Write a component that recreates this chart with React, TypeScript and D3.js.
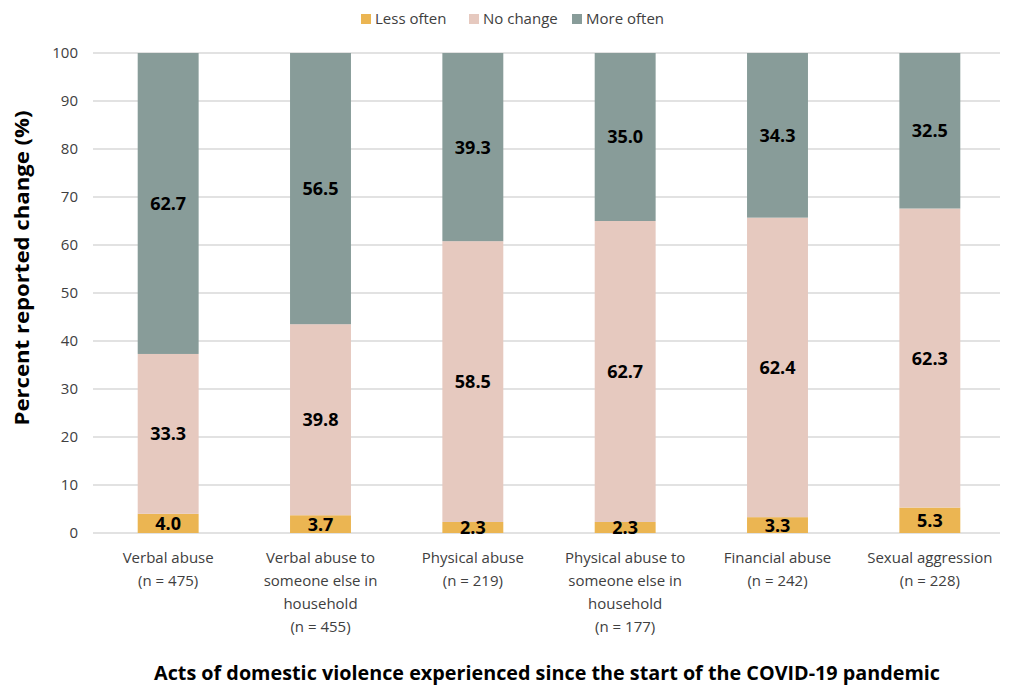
import { useEffect } from 'react'
import { scaleBand, scaleLinear, stack } from 'd3'

// Stacked 100% bars: reported change in acts of domestic violence.
const categories = [
  ['Verbal abuse', '(n = 475)'],
  ['Verbal abuse to', 'someone else in', 'household', '(n = 455)'],
  ['Physical abuse', '(n = 219)'],
  ['Physical abuse to', 'someone else in', 'household', '(n = 177)'],
  ['Financial abuse', '(n = 242)'],
  ['Sexual aggression', '(n = 228)'],
]
const lessOften = [4.0, 3.7, 2.3, 2.3, 3.3, 5.3]
const noChange = [33.3, 39.8, 58.5, 62.7, 62.4, 62.3]
const moreOften = [62.7, 56.5, 39.3, 35.0, 34.3, 32.5]
const seriesNames = ['Less often', 'No change', 'More often']
const yTicks = [0, 10, 20, 30, 40, 50, 60, 70, 80, 90, 100]

const COLORS = ['#EBB552', '#E6C9BF', '#889C99']
const FONT = '"Open Sans", "Noto Sans", sans-serif'

export default function App() {
  useEffect(() => {
    document.body.style.margin = '0'
  }, [])

  const width = 1018
  const height = 688
  const rows = categories.map((_, i) => ({
    i,
    'Less often': lessOften[i],
    'No change': noChange[i],
    'More often': moreOften[i],
  }))
  const series = stack<any>().keys(seriesNames)(rows)

  const x = scaleBand<number>()
    .domain(categories.map((_, i) => i))
    .range([92, 1006])
    .paddingInner(0.6)
    .paddingOuter(0.3)
  const y = scaleLinear().domain([0, 100]).range([533, 53])
  const bw = x.bandwidth()
  const top = (v: number) => y(Math.min(100, v))

  const legendX = [361, 469, 572]

  return (
    <svg width={width} height={height} style={{ display: 'block', fontFamily: FONT, background: '#fff' }}>
      {/* legend */}
      {seriesNames.map((name, k) => (
        <g key={name}>
          <rect x={legendX[k]} y={14} width={10} height={10} fill={COLORS[k]} />
          <text x={legendX[k] + 14} y={24} fontSize={15} fill="#404040">
            {name}
          </text>
        </g>
      ))}

      {/* gridlines + y ticks */}
      {yTicks.map((t) => (
        <g key={t}>
          <line x1={93} x2={1000} y1={y(t)} y2={y(t)} stroke="#d9d9d9" strokeWidth={1.5} />
          <text x={78} y={y(t)} dy="0.35em" textAnchor="end" fontSize={15} fill="#404040">
            {t}
          </text>
        </g>
      ))}

      {/* bars */}
      {series.map((s, k) =>
        s.map((d, i) => (
          <rect
            key={`${k}-${i}`}
            x={x(i)}
            y={top(d[1])}
            width={bw}
            height={y(d[0]) - top(d[1])}
            fill={COLORS[k]}
          />
        )),
      )}

      {/* value labels */}
      {series.map((s, k) =>
        s.map((d, i) => (
          <text
            key={`l${k}-${i}`}
            x={(x(i) ?? 0) + bw / 2}
            y={(y(d[0]) + top(d[1])) / 2}
            dy="0.36em"
            textAnchor="middle"
            fontSize={18}
            fontWeight="bold"
            fill="#000"
          >
            {(d[1] - d[0]).toFixed(1)}
          </text>
        )),
      )}

      {/* category labels */}
      {categories.map((lines, i) => (
        <text key={i} textAnchor="middle" fontSize={15} fill="#404040">
          {lines.map((ln, j) => (
            <tspan key={j} x={(x(i) ?? 0) + bw / 2} y={563 + j * 23}>
              {ln}
            </tspan>
          ))}
        </text>
      ))}

      {/* axis titles */}
      <text
        transform="translate(29,268) rotate(-90)"
        textAnchor="middle"
        fontSize={20}
        fontWeight="bold"
        fill="#000"
        textLength={315}
        lengthAdjust="spacingAndGlyphs"
      >
        Percent reported change (%)
      </text>
      <text
        x={547}
        y={680}
        textAnchor="middle"
        fontSize={19}
        fontWeight="bold"
        fill="#000"
        textLength={786}
        lengthAdjust="spacingAndGlyphs"
      >
        Acts of domestic violence experienced since the start of the COVID-19 pandemic
      </text>
    </svg>
  )
}
